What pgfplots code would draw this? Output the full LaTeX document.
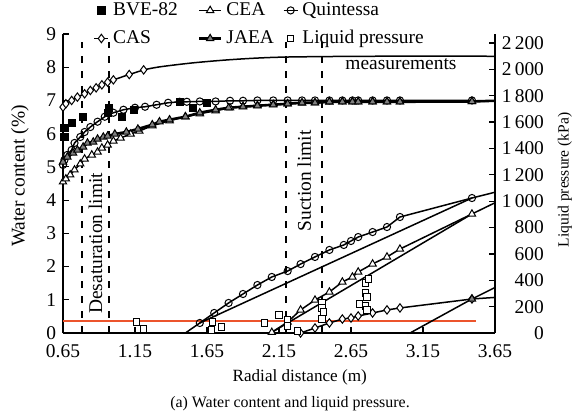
\documentclass[border=0pt]{standalone}
\usepackage{fontspec}
\setmainfont{Liberation Serif}
\usepackage{pgfplots}
\pgfplotsset{compat=1.18}
\definecolor{redline}{RGB}{236,84,44}
\definecolor{jgray}{RGB}{128,128,128}
\begin{document}
\fontsize{9.75}{11.7}\selectfont
\begin{tikzpicture}[font=\fontsize{9.75}{11.7}\selectfont]
\path[use as bounding box] (-31.5bp,-43bp) rectangle (256.5bp,166.5bp);
\begin{axis}[
  name=ax,
  at={(0,0)}, anchor=south west,
  scale only axis, width=216bp, height=149.5bp,
  xmin=0.65, xmax=3.65, ymin=0, ymax=9,
  axis x line*=bottom, axis y line*=left,
  axis line style={line width=0.6bp},
  tick align=inside, major tick length=3bp,
  tick style={line width=0.6bp, black},
  xtick={0.65,1.15,1.65,2.15,2.65,3.15,3.65},
  xticklabels={0.65,1.15,1.65,2.15,2.65,3.15,3.65},
  xticklabel style={yshift=-2.5bp},
  ytick={0,1,2,3,4,5,6,7,8,9},
  yticklabels={0,1,2,3,4,5,6,7,8,9},
  /pgf/number format/assume math mode=true,
  xlabel={Radial distance (m)},
  ylabel={Water content (\%)},
  xlabel style={at={(axis description cs:0.548,-0.15)}, anchor=center, font=\fontsize{8.6}{10}\selectfont},
  ylabel style={at={(axis description cs:-0.0995,0.525)}, anchor=center},
  legend columns=3,
  legend style={draw=none, fill=none, inner sep=0pt, row sep=2bp,
    at={(rel axis cs:0.07,1.12)}, anchor=north west,
    cells={anchor=west},
    /tikz/column 2/.style={column sep=8bp},
    /tikz/column 4/.style={column sep=2.5bp}},
  legend image code/.code={\draw[mark repeat=2,mark phase=2] plot coordinates {(0bp,0bp)(3.5bp,0bp)(7bp,0bp)};},
]
% BVE-82
\addplot[only marks, mark=square*, mark size=1.8bp, black] coordinates {
(0.66,5.9) (0.66,6.17) (0.71,6.33) (0.79,6.5) (0.96,6.62) (0.97,6.78) (1.06,6.5) (1.14,6.72) (1.46,6.96) (1.55,6.78) (1.65,6.93)};
\addlegendentry{BVE-82}
% CEA
\addplot[black, line width=0.75bp, mark=triangle*, mark size=2.1bp, mark options={fill=white, line width=0.5bp},
  legend image code/.code={\draw[mark repeat=2,mark phase=2] plot coordinates {(0bp,0bp)(5.5bp,0bp)(11bp,0bp)};}] coordinates {
(0.65,4.55) (0.67,4.64) (0.70,4.76) (0.73,4.91) (0.77,5.09) (0.80,5.24) (0.85,5.36) (0.89,5.45) (0.92,5.57) (0.96,5.66) (1.00,5.78) (1.05,5.87) (1.12,5.99) (1.18,6.08) (1.27,6.24) (1.39,6.39) (1.50,6.51) (1.60,6.60) (1.71,6.69) (1.81,6.78) (1.90,6.82) (2.00,6.85) (2.11,6.88) (2.21,6.90) (2.31,6.92) (2.40,6.93) (2.50,6.95) (2.59,6.96) (2.66,6.96) (2.70,6.96) (2.80,6.96) (2.90,6.96) (2.99,6.96) (3.49,6.97)};
\addlegendentry{CEA}
\addplot[forget plot, black, line width=0.75bp] coordinates {(3.49,6.97) (3.65,6.98)};
% Quintessa
\addplot[black, line width=0.75bp, mark=o, mark size=1.8bp, mark options={fill=white, line width=0.5bp}] coordinates {
(0.65,5.06) (0.66,5.21) (0.68,5.36) (0.71,5.51) (0.73,5.72) (0.77,5.90) (0.80,6.05) (0.84,6.20) (0.89,6.36) (0.94,6.51) (1.00,6.63) (1.07,6.72) (1.15,6.78) (1.22,6.81) (1.30,6.87) (1.38,6.93) (1.46,6.96) (1.51,6.96) (1.60,6.97) (1.71,6.97) (1.81,6.99) (1.90,6.99) (2.00,7.0) (2.11,7.0) (2.21,7.0) (2.31,7.0) (2.40,7.0) (2.50,7.0) (2.59,7.0) (2.66,7.0) (2.70,7.0) (2.80,7.0) (2.90,7.0) (2.99,7.0) (3.49,7.0)};
\addlegendentry{Quintessa}
\addplot[forget plot, black, line width=0.75bp] coordinates {(3.49,7.0) (3.65,7.0)};
% CAS
\addplot[black, line width=0.75bp, mark=diamond*, mark size=2.1bp, mark options={fill=white, line width=0.5bp}] coordinates {
(0.65,6.8) (0.67,6.9) (0.71,7.0) (0.75,7.1) (0.80,7.2) (0.84,7.3) (0.88,7.38) (0.92,7.47) (0.96,7.55) (1.00,7.62) (1.11,7.78) (1.21,7.92)};
\addlegendentry{CAS}
\addplot[forget plot, black, line width=0.75bp, smooth] coordinates {
(1.21,7.92) (1.32,8.01) (1.55,8.13) (1.79,8.22) (2.02,8.28) (2.25,8.31) (2.80,8.33) (3.65,8.33)};
% JAEA
\addplot[black, line width=1.3bp, mark=triangle*, mark size=2.1bp, mark options={fill=jgray, line width=0.5bp},
  legend image code/.code={\draw[mark repeat=2,mark phase=2] plot coordinates {(0bp,0bp)(5.5bp,0bp)(11bp,0bp)};}] coordinates {
(0.65,5.15) (0.68,5.30) (0.72,5.42) (0.75,5.51) (0.79,5.60) (0.82,5.72) (0.86,5.75) (0.89,5.84) (0.93,5.90) (0.96,5.93) (1.01,5.99) (1.09,6.05) (1.17,6.14) (1.27,6.27) (1.32,6.36) (1.39,6.42) (1.50,6.51) (1.60,6.63) (1.71,6.72) (1.80,6.78) (1.90,6.81) (2.00,6.84) (2.11,6.87) (2.21,6.90) (2.31,6.93) (2.40,6.93) (2.50,6.96) (2.59,6.96) (2.66,6.96) (2.70,6.96) (2.80,6.96) (2.90,6.96) (2.99,6.96) (3.49,6.97)};
\addlegendentry{JAEA}
\addplot[forget plot, black, line width=1.3bp] coordinates {(3.49,6.97) (3.65,6.99)};
% legend image for measurements
\addlegendimage{only marks, mark=square, mark size=1.6bp, black, mark options={line width=0.5bp}}
\addlegendentry{Liquid pressure}
% limits
\addplot[forget plot, black, line width=1.2bp, dash pattern=on 3.5bp off 4bp] coordinates {(0.78,0) (0.78,8.75)};
\addplot[forget plot, black, line width=1.2bp, dash pattern=on 3.5bp off 4bp] coordinates {(0.97,0) (0.97,8.75)};
\addplot[forget plot, black, line width=1.2bp, dash pattern=on 3.5bp off 4bp] coordinates {(2.20,0) (2.20,8.75)};
\addplot[forget plot, black, line width=1.2bp, dash pattern=on 3.5bp off 4bp] coordinates {(2.45,0) (2.45,8.75)};
\node[rotate=90, fill=white, inner sep=0.5bp] at (axis cs:0.876,2.70) {Desaturation limit};
\node[rotate=90, fill=white, inner sep=0.5bp] at (axis cs:2.325,4.58) {Suction limit};
\end{axis}
\begin{axis}[
  at={(0,0)}, anchor=south west,
  scale only axis, width=216bp, height=149.5bp,
  xmin=0.65, xmax=3.65, ymin=0, ymax=2268.3,
  axis x line=none, axis y line*=right,
  axis line style={line width=0.6bp},
  tick align=inside, major tick length=3bp,
  tick style={line width=0.6bp, black},
  ytick={0,200,400,600,800,1000,1200,1400,1600,1800,2000,2200},
  yticklabels={0,200,400,600,800,1\,000,1\,200,1\,400,1\,600,1\,800,2\,000,2\,200},
  yticklabel style={text width=21bp, align=right},
  /pgf/number format/assume math mode=true,
  ylabel={Liquid pressure (kPa)},
  ylabel style={at={(axis description cs:1.162,0.512)}, anchor=center, font=\fontsize{7.8}{9}\selectfont},
]
\addplot[redline, line width=1bp] coordinates {(0.65,90) (3.52,90)};
% Quintessa pressure
\addplot[black, line width=0.75bp] coordinates {(1.50,0) (1.60,76) (3.49,1024) (3.65,1068)};
\addplot[black, line width=0.75bp, mark=o, mark size=1.8bp, mark options={fill=white, line width=0.5bp}] coordinates {
(1.60,76) (1.70,152) (1.80,228) (1.90,296) (2.00,364) (2.10,425) (2.21,470) (2.30,523) (2.40,577) (2.50,630) (2.60,668) (2.65,698) (2.70,728) (2.80,766) (2.90,804) (2.99,880) (3.49,1024)};
% CEA pressure
\addplot[black, line width=0.75bp] coordinates {(2.09,0) (2.10,5) (3.49,903) (3.65,988)};
\addplot[black, line width=0.75bp, mark=triangle*, mark size=2.1bp, mark options={fill=white, line width=0.5bp}] coordinates {
(2.10,5) (2.21,83) (2.30,175) (2.40,250) (2.50,311) (2.59,387) (2.66,425) (2.70,463) (2.80,524) (2.90,577) (2.99,637) (3.49,903)};
% CAS pressure
\addplot[black, line width=0.75bp, mark=diamond*, mark size=2.1bp, mark options={fill=white, line width=0.5bp}] coordinates {
(2.30,0) (2.40,38) (2.50,76) (2.59,106) (2.65,114) (2.70,129) (2.80,152) (2.90,175) (2.99,190) (3.49,258)};
\addplot[black, line width=0.75bp] coordinates {(3.49,258) (3.65,270)};
% JAEA pressure
\addplot[black, line width=0.75bp] coordinates {(3.06,0) (3.49,258) (3.65,345)};
\addplot[only marks, mark=triangle*, mark size=2.1bp, mark options={fill=jgray, draw=black, line width=0.5bp}] coordinates {(3.49,258)};
% measurements
\addplot[only marks, mark=square*, mark size=1.6bp, mark options={fill=white, draw=black, line width=0.5bp}] coordinates {
(1.16,83) (1.21,30) (1.69,83) (1.68,23) (1.75,46) (2.05,76) (2.15,137) (2.21,99) (2.21,53) (2.28,15)
(2.45,228) (2.45,190) (2.46,160) (2.45,106) (2.75,379) (2.77,410) (2.75,303) (2.76,273) (2.71,220) (2.75,205) (2.76,175)};
\end{axis}
\node[anchor=west, inner sep=0pt] at (141bp,134.5bp) {measurements};
\node[font=\fontsize{8}{9.6}\selectfont] at (113.5bp,-35.5bp) {(a) Water content and liquid pressure.};
\end{tikzpicture}
\end{document}
